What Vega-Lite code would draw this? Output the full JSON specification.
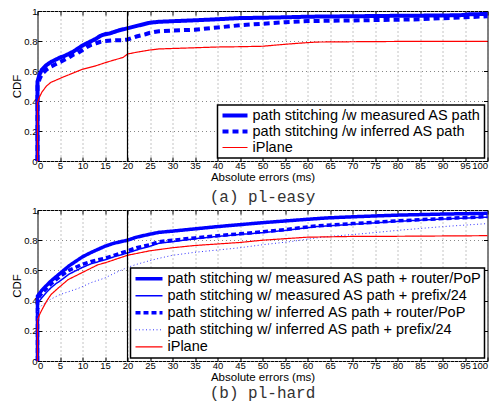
{
  "$schema": "https://vega.github.io/schema/vega-lite/v6.json",
  "padding": {"left": 10.5, "top": 5, "right": 0, "bottom": 0},
  "background": "white",
  "datasets": {
    "a": [
      {"s": "path stitching /w measured AS path", "x": 0, "y": 0},
      {"s": "path stitching /w measured AS path", "x": 0, "y": 0.53},
      {"s": "path stitching /w measured AS path", "x": 0.5, "y": 0.58},
      {"s": "path stitching /w measured AS path", "x": 1, "y": 0.61},
      {"s": "path stitching /w measured AS path", "x": 2, "y": 0.64},
      {"s": "path stitching /w measured AS path", "x": 3, "y": 0.66},
      {"s": "path stitching /w measured AS path", "x": 4, "y": 0.675},
      {"s": "path stitching /w measured AS path", "x": 5, "y": 0.69},
      {"s": "path stitching /w measured AS path", "x": 6, "y": 0.70},
      {"s": "path stitching /w measured AS path", "x": 7, "y": 0.715},
      {"s": "path stitching /w measured AS path", "x": 8, "y": 0.73},
      {"s": "path stitching /w measured AS path", "x": 9, "y": 0.75},
      {"s": "path stitching /w measured AS path", "x": 10, "y": 0.77},
      {"s": "path stitching /w measured AS path", "x": 11, "y": 0.785},
      {"s": "path stitching /w measured AS path", "x": 12, "y": 0.80},
      {"s": "path stitching /w measured AS path", "x": 13, "y": 0.815},
      {"s": "path stitching /w measured AS path", "x": 14, "y": 0.835},
      {"s": "path stitching /w measured AS path", "x": 15, "y": 0.845},
      {"s": "path stitching /w measured AS path", "x": 16, "y": 0.85},
      {"s": "path stitching /w measured AS path", "x": 17, "y": 0.86},
      {"s": "path stitching /w measured AS path", "x": 18, "y": 0.87},
      {"s": "path stitching /w measured AS path", "x": 20, "y": 0.885},
      {"s": "path stitching /w measured AS path", "x": 22, "y": 0.90},
      {"s": "path stitching /w measured AS path", "x": 24, "y": 0.915},
      {"s": "path stitching /w measured AS path", "x": 25, "y": 0.922},
      {"s": "path stitching /w measured AS path", "x": 27, "y": 0.928},
      {"s": "path stitching /w measured AS path", "x": 30, "y": 0.932},
      {"s": "path stitching /w measured AS path", "x": 35, "y": 0.938},
      {"s": "path stitching /w measured AS path", "x": 40, "y": 0.945},
      {"s": "path stitching /w measured AS path", "x": 45, "y": 0.953},
      {"s": "path stitching /w measured AS path", "x": 50, "y": 0.955},
      {"s": "path stitching /w measured AS path", "x": 55, "y": 0.958},
      {"s": "path stitching /w measured AS path", "x": 60, "y": 0.962},
      {"s": "path stitching /w measured AS path", "x": 70, "y": 0.965},
      {"s": "path stitching /w measured AS path", "x": 80, "y": 0.968},
      {"s": "path stitching /w measured AS path", "x": 90, "y": 0.97},
      {"s": "path stitching /w measured AS path", "x": 94, "y": 0.972},
      {"s": "path stitching /w measured AS path", "x": 96, "y": 0.978},
      {"s": "path stitching /w measured AS path", "x": 100, "y": 0.98},
      {"s": "path stitching /w inferred AS path", "x": 0, "y": 0},
      {"s": "path stitching /w inferred AS path", "x": 0, "y": 0.50},
      {"s": "path stitching /w inferred AS path", "x": 0.5, "y": 0.55},
      {"s": "path stitching /w inferred AS path", "x": 1, "y": 0.58},
      {"s": "path stitching /w inferred AS path", "x": 2, "y": 0.61},
      {"s": "path stitching /w inferred AS path", "x": 3, "y": 0.63},
      {"s": "path stitching /w inferred AS path", "x": 4, "y": 0.645},
      {"s": "path stitching /w inferred AS path", "x": 5, "y": 0.66},
      {"s": "path stitching /w inferred AS path", "x": 6, "y": 0.675},
      {"s": "path stitching /w inferred AS path", "x": 7, "y": 0.69},
      {"s": "path stitching /w inferred AS path", "x": 8, "y": 0.71},
      {"s": "path stitching /w inferred AS path", "x": 9, "y": 0.72},
      {"s": "path stitching /w inferred AS path", "x": 10, "y": 0.74},
      {"s": "path stitching /w inferred AS path", "x": 11, "y": 0.76},
      {"s": "path stitching /w inferred AS path", "x": 12, "y": 0.775},
      {"s": "path stitching /w inferred AS path", "x": 13, "y": 0.785},
      {"s": "path stitching /w inferred AS path", "x": 14, "y": 0.795},
      {"s": "path stitching /w inferred AS path", "x": 15, "y": 0.80},
      {"s": "path stitching /w inferred AS path", "x": 17, "y": 0.805},
      {"s": "path stitching /w inferred AS path", "x": 19, "y": 0.806},
      {"s": "path stitching /w inferred AS path", "x": 20, "y": 0.81},
      {"s": "path stitching /w inferred AS path", "x": 21, "y": 0.82},
      {"s": "path stitching /w inferred AS path", "x": 22, "y": 0.83},
      {"s": "path stitching /w inferred AS path", "x": 24, "y": 0.845},
      {"s": "path stitching /w inferred AS path", "x": 25, "y": 0.855},
      {"s": "path stitching /w inferred AS path", "x": 27, "y": 0.865},
      {"s": "path stitching /w inferred AS path", "x": 30, "y": 0.87},
      {"s": "path stitching /w inferred AS path", "x": 35, "y": 0.875},
      {"s": "path stitching /w inferred AS path", "x": 40, "y": 0.89},
      {"s": "path stitching /w inferred AS path", "x": 45, "y": 0.905},
      {"s": "path stitching /w inferred AS path", "x": 50, "y": 0.915},
      {"s": "path stitching /w inferred AS path", "x": 55, "y": 0.925},
      {"s": "path stitching /w inferred AS path", "x": 60, "y": 0.933},
      {"s": "path stitching /w inferred AS path", "x": 70, "y": 0.937},
      {"s": "path stitching /w inferred AS path", "x": 80, "y": 0.942},
      {"s": "path stitching /w inferred AS path", "x": 85, "y": 0.945},
      {"s": "path stitching /w inferred AS path", "x": 90, "y": 0.952},
      {"s": "path stitching /w inferred AS path", "x": 95, "y": 0.958},
      {"s": "path stitching /w inferred AS path", "x": 100, "y": 0.965},
      {"s": "iPlane", "x": 0, "y": 0},
      {"s": "iPlane", "x": 0, "y": 0.39},
      {"s": "iPlane", "x": 0.5, "y": 0.43},
      {"s": "iPlane", "x": 1, "y": 0.46},
      {"s": "iPlane", "x": 2, "y": 0.50},
      {"s": "iPlane", "x": 3, "y": 0.525},
      {"s": "iPlane", "x": 4.6, "y": 0.545},
      {"s": "iPlane", "x": 5.7, "y": 0.56},
      {"s": "iPlane", "x": 7, "y": 0.575},
      {"s": "iPlane", "x": 10, "y": 0.612},
      {"s": "iPlane", "x": 12.7, "y": 0.632},
      {"s": "iPlane", "x": 15, "y": 0.655},
      {"s": "iPlane", "x": 17, "y": 0.673},
      {"s": "iPlane", "x": 19, "y": 0.69},
      {"s": "iPlane", "x": 20, "y": 0.713},
      {"s": "iPlane", "x": 22, "y": 0.725},
      {"s": "iPlane", "x": 25, "y": 0.74},
      {"s": "iPlane", "x": 27, "y": 0.747},
      {"s": "iPlane", "x": 30, "y": 0.75},
      {"s": "iPlane", "x": 35, "y": 0.755},
      {"s": "iPlane", "x": 40, "y": 0.76},
      {"s": "iPlane", "x": 45, "y": 0.762},
      {"s": "iPlane", "x": 50, "y": 0.765},
      {"s": "iPlane", "x": 55, "y": 0.778},
      {"s": "iPlane", "x": 58, "y": 0.785},
      {"s": "iPlane", "x": 62, "y": 0.793},
      {"s": "iPlane", "x": 70, "y": 0.795},
      {"s": "iPlane", "x": 80, "y": 0.797},
      {"s": "iPlane", "x": 100, "y": 0.797}
    ],
    "b": [
      {"s": "path stitching w/ measured AS path + router/PoP", "x": 0, "y": 0},
      {"s": "path stitching w/ measured AS path + router/PoP", "x": 0, "y": 0.43},
      {"s": "path stitching w/ measured AS path + router/PoP", "x": 0.5, "y": 0.45},
      {"s": "path stitching w/ measured AS path + router/PoP", "x": 1, "y": 0.47},
      {"s": "path stitching w/ measured AS path + router/PoP", "x": 2, "y": 0.50},
      {"s": "path stitching w/ measured AS path + router/PoP", "x": 3, "y": 0.53},
      {"s": "path stitching w/ measured AS path + router/PoP", "x": 4, "y": 0.555},
      {"s": "path stitching w/ measured AS path + router/PoP", "x": 5, "y": 0.58},
      {"s": "path stitching w/ measured AS path + router/PoP", "x": 7, "y": 0.63},
      {"s": "path stitching w/ measured AS path + router/PoP", "x": 10, "y": 0.69},
      {"s": "path stitching w/ measured AS path + router/PoP", "x": 12, "y": 0.72},
      {"s": "path stitching w/ measured AS path + router/PoP", "x": 15, "y": 0.76},
      {"s": "path stitching w/ measured AS path + router/PoP", "x": 17, "y": 0.78},
      {"s": "path stitching w/ measured AS path + router/PoP", "x": 20, "y": 0.80},
      {"s": "path stitching w/ measured AS path + router/PoP", "x": 22, "y": 0.82},
      {"s": "path stitching w/ measured AS path + router/PoP", "x": 25, "y": 0.84},
      {"s": "path stitching w/ measured AS path + router/PoP", "x": 27, "y": 0.852},
      {"s": "path stitching w/ measured AS path + router/PoP", "x": 30, "y": 0.86},
      {"s": "path stitching w/ measured AS path + router/PoP", "x": 35, "y": 0.875},
      {"s": "path stitching w/ measured AS path + router/PoP", "x": 40, "y": 0.89},
      {"s": "path stitching w/ measured AS path + router/PoP", "x": 45, "y": 0.903},
      {"s": "path stitching w/ measured AS path + router/PoP", "x": 50, "y": 0.916},
      {"s": "path stitching w/ measured AS path + router/PoP", "x": 58, "y": 0.934},
      {"s": "path stitching w/ measured AS path + router/PoP", "x": 64, "y": 0.947},
      {"s": "path stitching w/ measured AS path + router/PoP", "x": 70, "y": 0.955},
      {"s": "path stitching w/ measured AS path + router/PoP", "x": 80, "y": 0.966},
      {"s": "path stitching w/ measured AS path + router/PoP", "x": 90, "y": 0.973},
      {"s": "path stitching w/ measured AS path + router/PoP", "x": 100, "y": 0.978},
      {"s": "path stitching w/ measured AS path + prefix/24", "x": 0, "y": 0},
      {"s": "path stitching w/ measured AS path + prefix/24", "x": 0, "y": 0.38},
      {"s": "path stitching w/ measured AS path + prefix/24", "x": 0.5, "y": 0.40},
      {"s": "path stitching w/ measured AS path + prefix/24", "x": 1, "y": 0.42},
      {"s": "path stitching w/ measured AS path + prefix/24", "x": 2, "y": 0.455},
      {"s": "path stitching w/ measured AS path + prefix/24", "x": 3, "y": 0.485},
      {"s": "path stitching w/ measured AS path + prefix/24", "x": 4, "y": 0.51},
      {"s": "path stitching w/ measured AS path + prefix/24", "x": 5, "y": 0.53},
      {"s": "path stitching w/ measured AS path + prefix/24", "x": 7, "y": 0.575},
      {"s": "path stitching w/ measured AS path + prefix/24", "x": 10, "y": 0.62},
      {"s": "path stitching w/ measured AS path + prefix/24", "x": 12, "y": 0.645},
      {"s": "path stitching w/ measured AS path + prefix/24", "x": 15, "y": 0.67},
      {"s": "path stitching w/ measured AS path + prefix/24", "x": 17, "y": 0.69},
      {"s": "path stitching w/ measured AS path + prefix/24", "x": 20, "y": 0.715},
      {"s": "path stitching w/ measured AS path + prefix/24", "x": 22, "y": 0.735},
      {"s": "path stitching w/ measured AS path + prefix/24", "x": 25, "y": 0.76},
      {"s": "path stitching w/ measured AS path + prefix/24", "x": 27, "y": 0.78},
      {"s": "path stitching w/ measured AS path + prefix/24", "x": 30, "y": 0.79},
      {"s": "path stitching w/ measured AS path + prefix/24", "x": 35, "y": 0.81},
      {"s": "path stitching w/ measured AS path + prefix/24", "x": 40, "y": 0.825},
      {"s": "path stitching w/ measured AS path + prefix/24", "x": 45, "y": 0.838},
      {"s": "path stitching w/ measured AS path + prefix/24", "x": 50, "y": 0.85},
      {"s": "path stitching w/ measured AS path + prefix/24", "x": 55, "y": 0.865},
      {"s": "path stitching w/ measured AS path + prefix/24", "x": 62, "y": 0.89},
      {"s": "path stitching w/ measured AS path + prefix/24", "x": 70, "y": 0.905},
      {"s": "path stitching w/ measured AS path + prefix/24", "x": 80, "y": 0.925},
      {"s": "path stitching w/ measured AS path + prefix/24", "x": 90, "y": 0.94},
      {"s": "path stitching w/ measured AS path + prefix/24", "x": 100, "y": 0.953},
      {"s": "path stitching w/ inferred AS path + router/PoP", "x": 0, "y": 0},
      {"s": "path stitching w/ inferred AS path + router/PoP", "x": 0, "y": 0.41},
      {"s": "path stitching w/ inferred AS path + router/PoP", "x": 0.5, "y": 0.43},
      {"s": "path stitching w/ inferred AS path + router/PoP", "x": 1, "y": 0.45},
      {"s": "path stitching w/ inferred AS path + router/PoP", "x": 2, "y": 0.48},
      {"s": "path stitching w/ inferred AS path + router/PoP", "x": 3, "y": 0.51},
      {"s": "path stitching w/ inferred AS path + router/PoP", "x": 4, "y": 0.535},
      {"s": "path stitching w/ inferred AS path + router/PoP", "x": 5, "y": 0.56},
      {"s": "path stitching w/ inferred AS path + router/PoP", "x": 7, "y": 0.60},
      {"s": "path stitching w/ inferred AS path + router/PoP", "x": 10, "y": 0.64},
      {"s": "path stitching w/ inferred AS path + router/PoP", "x": 12, "y": 0.66},
      {"s": "path stitching w/ inferred AS path + router/PoP", "x": 15, "y": 0.68},
      {"s": "path stitching w/ inferred AS path + router/PoP", "x": 17, "y": 0.70},
      {"s": "path stitching w/ inferred AS path + router/PoP", "x": 20, "y": 0.73},
      {"s": "path stitching w/ inferred AS path + router/PoP", "x": 22, "y": 0.75},
      {"s": "path stitching w/ inferred AS path + router/PoP", "x": 25, "y": 0.77},
      {"s": "path stitching w/ inferred AS path + router/PoP", "x": 27, "y": 0.79},
      {"s": "path stitching w/ inferred AS path + router/PoP", "x": 30, "y": 0.80},
      {"s": "path stitching w/ inferred AS path + router/PoP", "x": 35, "y": 0.815},
      {"s": "path stitching w/ inferred AS path + router/PoP", "x": 40, "y": 0.83},
      {"s": "path stitching w/ inferred AS path + router/PoP", "x": 45, "y": 0.842},
      {"s": "path stitching w/ inferred AS path + router/PoP", "x": 50, "y": 0.855},
      {"s": "path stitching w/ inferred AS path + router/PoP", "x": 55, "y": 0.87},
      {"s": "path stitching w/ inferred AS path + router/PoP", "x": 62, "y": 0.895},
      {"s": "path stitching w/ inferred AS path + router/PoP", "x": 70, "y": 0.91},
      {"s": "path stitching w/ inferred AS path + router/PoP", "x": 80, "y": 0.928},
      {"s": "path stitching w/ inferred AS path + router/PoP", "x": 90, "y": 0.943},
      {"s": "path stitching w/ inferred AS path + router/PoP", "x": 100, "y": 0.956},
      {"s": "path stitching w/ inferred AS path + prefix/24", "x": 0, "y": 0},
      {"s": "path stitching w/ inferred AS path + prefix/24", "x": 0, "y": 0.33},
      {"s": "path stitching w/ inferred AS path + prefix/24", "x": 0.5, "y": 0.35},
      {"s": "path stitching w/ inferred AS path + prefix/24", "x": 1, "y": 0.37},
      {"s": "path stitching w/ inferred AS path + prefix/24", "x": 2, "y": 0.39},
      {"s": "path stitching w/ inferred AS path + prefix/24", "x": 3, "y": 0.41},
      {"s": "path stitching w/ inferred AS path + prefix/24", "x": 5, "y": 0.44},
      {"s": "path stitching w/ inferred AS path + prefix/24", "x": 7, "y": 0.46},
      {"s": "path stitching w/ inferred AS path + prefix/24", "x": 9, "y": 0.48},
      {"s": "path stitching w/ inferred AS path + prefix/24", "x": 12, "y": 0.52},
      {"s": "path stitching w/ inferred AS path + prefix/24", "x": 15, "y": 0.55},
      {"s": "path stitching w/ inferred AS path + prefix/24", "x": 17, "y": 0.58},
      {"s": "path stitching w/ inferred AS path + prefix/24", "x": 20, "y": 0.62},
      {"s": "path stitching w/ inferred AS path + prefix/24", "x": 22, "y": 0.64},
      {"s": "path stitching w/ inferred AS path + prefix/24", "x": 25, "y": 0.665},
      {"s": "path stitching w/ inferred AS path + prefix/24", "x": 27, "y": 0.68},
      {"s": "path stitching w/ inferred AS path + prefix/24", "x": 30, "y": 0.70},
      {"s": "path stitching w/ inferred AS path + prefix/24", "x": 35, "y": 0.72},
      {"s": "path stitching w/ inferred AS path + prefix/24", "x": 40, "y": 0.735},
      {"s": "path stitching w/ inferred AS path + prefix/24", "x": 45, "y": 0.75},
      {"s": "path stitching w/ inferred AS path + prefix/24", "x": 50, "y": 0.77},
      {"s": "path stitching w/ inferred AS path + prefix/24", "x": 56, "y": 0.79},
      {"s": "path stitching w/ inferred AS path + prefix/24", "x": 62, "y": 0.815},
      {"s": "path stitching w/ inferred AS path + prefix/24", "x": 65, "y": 0.825},
      {"s": "path stitching w/ inferred AS path + prefix/24", "x": 73, "y": 0.845},
      {"s": "path stitching w/ inferred AS path + prefix/24", "x": 80, "y": 0.865},
      {"s": "path stitching w/ inferred AS path + prefix/24", "x": 90, "y": 0.89},
      {"s": "path stitching w/ inferred AS path + prefix/24", "x": 100, "y": 0.91},
      {"s": "iPlane", "x": 0, "y": 0},
      {"s": "iPlane", "x": 0, "y": 0.27},
      {"s": "iPlane", "x": 0.5, "y": 0.31},
      {"s": "iPlane", "x": 1, "y": 0.34},
      {"s": "iPlane", "x": 2, "y": 0.395},
      {"s": "iPlane", "x": 3, "y": 0.44},
      {"s": "iPlane", "x": 4.6, "y": 0.483},
      {"s": "iPlane", "x": 6.8, "y": 0.539},
      {"s": "iPlane", "x": 9.7, "y": 0.582},
      {"s": "iPlane", "x": 13.4, "y": 0.637},
      {"s": "iPlane", "x": 15, "y": 0.65},
      {"s": "iPlane", "x": 20, "y": 0.70},
      {"s": "iPlane", "x": 25, "y": 0.73},
      {"s": "iPlane", "x": 30, "y": 0.75},
      {"s": "iPlane", "x": 35, "y": 0.765},
      {"s": "iPlane", "x": 40, "y": 0.775},
      {"s": "iPlane", "x": 45, "y": 0.785},
      {"s": "iPlane", "x": 50, "y": 0.80},
      {"s": "iPlane", "x": 55, "y": 0.81},
      {"s": "iPlane", "x": 60, "y": 0.82},
      {"s": "iPlane", "x": 70, "y": 0.825},
      {"s": "iPlane", "x": 80, "y": 0.826},
      {"s": "iPlane", "x": 100, "y": 0.83}
    ],
    "r": [{"x": 20, "y0": 0, "y1": 1}]
  },
  "spacing": -2,
  "resolve": {"scale": {"color": "independent", "strokeWidth": "independent", "strokeDash": "independent"}},
  "vconcat": [
    {
      "width": 450,
      "height": 150,
      "title": {"text": "(a) pl-easy", "orient": "bottom", "font": "Liberation Mono", "fontSize": 16, "fontWeight": "normal", "color": "#333", "offset": 6},
      "resolve": {"axis": {"x": "independent", "y": "independent"}},
      "layer": [
        {
          "data": {"name": "a"},
          "mark": {"type": "line"},
          "encoding": {
            "x": {"field": "x", "type": "quantitative", "scale": {"domain": [0, 100], "nice": false}, "axis": {"title": "Absolute errors (ms)", "values": [0,5,10,15,20,25,30,35,40,45,50,55,60,65,70,75,80,85,90,95,100], "grid": true}},
            "y": {"field": "y", "type": "quantitative", "scale": {"domain": [0, 1], "nice": false}, "axis": {"title": "CDF", "values": [0,0.2,0.4,0.6,0.8,1], "format": "~g", "grid": true}},
            "color": {"field": "s", "type": "nominal", "scale": {"domain": ["path stitching /w measured AS path", "path stitching /w inferred AS path", "iPlane"], "range": ["#0000ff", "#0000ff", "#ff0000"]}, "legend": {"title": null, "symbolSize": 625, "clipHeight": 15}},
            "strokeWidth": {"field": "s", "type": "nominal", "scale": {"type": "ordinal", "domain": ["path stitching /w measured AS path", "path stitching /w inferred AS path", "iPlane"], "range": [4, 4, 1.2]}, "legend": {"title": null, "symbolSize": 625, "clipHeight": 15}},
            "strokeDash": {"field": "s", "type": "nominal", "scale": {"domain": ["path stitching /w measured AS path", "path stitching /w inferred AS path", "iPlane"], "range": [[1, 0], [6, 4], [1, 0]]}, "legend": {"title": null, "symbolSize": 625, "clipHeight": 15}}
          }
        },
        {
          "data": {"name": "r"},
          "mark": {"type": "rule", "color": "black", "strokeWidth": 1.2},
          "encoding": {
            "x": {"field": "x", "type": "quantitative", "axis": {"orient": "top", "labels": false, "title": null, "grid": false, "values": [0,5,10,15,20,25,30,35,40,45,50,55,60,65,70,75,80,85,90,95,100]}},
            "y": {"field": "y0", "type": "quantitative", "axis": {"orient": "right", "labels": false, "title": null, "grid": false, "values": [0,0.2,0.4,0.6,0.8,1]}},
            "y2": {"field": "y1"}
          }
        }
      ]
    },
    {
      "width": 450,
      "height": 151,
      "title": {"text": "(b) pl-hard", "orient": "bottom", "font": "Liberation Mono", "fontSize": 16, "fontWeight": "normal", "color": "#333", "offset": 2},
      "resolve": {"axis": {"x": "independent", "y": "independent"}},
      "layer": [
        {
          "data": {"name": "b"},
          "mark": {"type": "line"},
          "encoding": {
            "x": {"field": "x", "type": "quantitative", "scale": {"domain": [0, 100], "nice": false}, "axis": {"title": "Absolute errors (ms)", "values": [0,5,10,15,20,25,30,35,40,45,50,55,60,65,70,75,80,85,90,95,100], "grid": true}},
            "y": {"field": "y", "type": "quantitative", "scale": {"domain": [0, 1], "nice": false}, "axis": {"title": "CDF", "values": [0,0.2,0.4,0.6,0.8,1], "format": "~g", "grid": true}},
            "color": {"field": "s", "type": "nominal", "scale": {"domain": ["path stitching w/ measured AS path + router/PoP", "path stitching w/ measured AS path + prefix/24", "path stitching w/ inferred AS path + router/PoP", "path stitching w/ inferred AS path + prefix/24", "iPlane"], "range": ["#0000ff", "#0000ff", "#0000ff", "#3333ff", "#ff0000"]}, "legend": {"title": null, "symbolSize": 729, "clipHeight": 15.6}},
            "strokeWidth": {"field": "s", "type": "nominal", "scale": {"type": "ordinal", "domain": ["path stitching w/ measured AS path + router/PoP", "path stitching w/ measured AS path + prefix/24", "path stitching w/ inferred AS path + router/PoP", "path stitching w/ inferred AS path + prefix/24", "iPlane"], "range": [3.5, 1.5, 3.5, 1, 1.2]}, "legend": {"title": null, "symbolSize": 729, "clipHeight": 15.6}},
            "strokeDash": {"field": "s", "type": "nominal", "scale": {"domain": ["path stitching w/ measured AS path + router/PoP", "path stitching w/ measured AS path + prefix/24", "path stitching w/ inferred AS path + router/PoP", "path stitching w/ inferred AS path + prefix/24", "iPlane"], "range": [[1, 0], [1, 0], [5, 3], [1, 2.5], [1, 0]]}, "legend": {"title": null, "symbolSize": 729, "clipHeight": 15.6}}
          }
        },
        {
          "data": {"name": "r"},
          "mark": {"type": "rule", "color": "black", "strokeWidth": 1.2},
          "encoding": {
            "x": {"field": "x", "type": "quantitative", "axis": {"orient": "top", "labels": false, "title": null, "grid": false, "values": [0,5,10,15,20,25,30,35,40,45,50,55,60,65,70,75,80,85,90,95,100]}},
            "y": {"field": "y0", "type": "quantitative", "axis": {"orient": "right", "labels": false, "title": null, "grid": false, "values": [0,0.2,0.4,0.6,0.8,1]}},
            "y2": {"field": "y1"}
          }
        }
      ]
    }
  ],
  "config": {
    "view": {"stroke": "black", "strokeWidth": 1},
    "axis": {
      "domain": false,
      "gridDash": [1, 3],
      "gridColor": "#888",
      "gridWidth": 1,
      "tickColor": "black",
      "tickSize": -4,
      "labelOverlap": false,
      "labelFont": "Liberation Sans",
      "labelFontSize": 9.5,
      "labelColor": "black",
      "titleFont": "Liberation Sans",
      "titleFontSize": 11.5,
      "titleFontWeight": "normal",
      "titleColor": "black"
    },
    "axisX": {"labelPadding": 3, "titlePadding": 2},
    "axisY": {"labelPadding": 4.5, "titlePadding": 1},
    "legend": {
      "orient": "bottom-right",
      "offset": 3,
      "fillColor": "white",
      "strokeColor": "black",
      "strokeWidth": 1.5,
      "padding": 3,
      "symbolType": "stroke",
      "labelFont": "Liberation Sans",
      "labelFontSize": 14.5,
      "labelColor": "black",
      "labelLimit": 400,
      "labelOffset": 3,
      "rowPadding": 0
    }
  }
}
